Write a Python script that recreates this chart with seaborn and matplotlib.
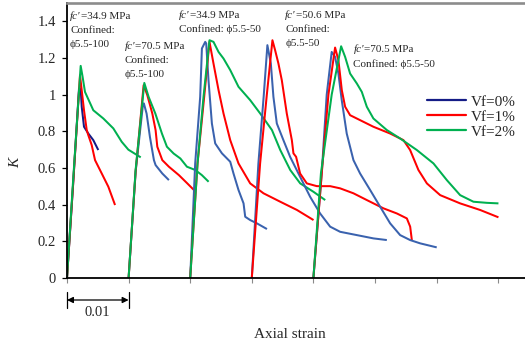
import numpy as np
import pandas as pd
import matplotlib
matplotlib.use("Agg")
import matplotlib.pyplot as plt
import seaborn as sns
from matplotlib.lines import Line2D
from matplotlib.transforms import blended_transform_factory

# ---------------------------------------------------------------------------
# Normalised stress K versus axial strain for five confined specimen groups.
# Strain values are given in units of 1e-3, measured from each group's origin.
# ---------------------------------------------------------------------------
group_origins = [0.0, 10.0, 20.0, 30.0, 40.0]          # x 1e-3 strain
vf_labels = ["Vf=0%", "Vf=1%", "Vf=2%"]

# Group 1: fc'=34.9 MPa, phi5.5-100
g1_vf0_strain = [0, 0.97, 1.95, 2.22, 2.39, 2.76, 3.46, 4.27, 5.08]
g1_vf0_k = [0, 0.50, 1.034, 1.034, 0.934, 0.825, 0.788, 0.752, 0.698]
g1_vf1_strain = [0, 0.97, 2.11, 2.39, 2.76, 3.20, 3.46, 4.01, 4.55, 5.64, 6.71, 7.80]
g1_vf1_k = [0, 0.50, 1.106, 1.024, 0.915, 0.807, 0.779, 0.725, 0.643, 0.570, 0.498, 0.398]
g1_vf2_strain = [0, 0.97, 2.22, 2.52, 2.92, 4.27, 5.90, 7.52, 8.88, 9.96, 11.97]
g1_vf2_k = [0, 0.52, 1.157, 1.10, 1.015, 0.915, 0.870, 0.816, 0.743, 0.700, 0.658]

# Group 2: fc'=70.5 MPa, phi5.5-100
g2_vf0_strain = [0, 1.14, 2.35, 2.48, 2.92, 3.46, 4.11, 4.38, 5.47, 6.54]
g2_vf0_k = [0, 0.58, 0.952, 0.952, 0.897, 0.770, 0.643, 0.616, 0.570, 0.534]
g2_vf1_strain = [0, 1.14, 2.44, 3.04, 3.85, 4.38, 4.66, 5.47, 6.54, 8.17, 9.53, 10.60]
g2_vf1_k = [0, 0.58, 1.052, 0.997, 0.897, 0.807, 0.716, 0.643, 0.607, 0.561, 0.516, 0.480]
g2_vf2_strain = [0, 1.14, 2.55, 3.25, 4.34, 5.41, 6.22, 7.31, 8.40, 9.47, 10.83, 11.90, 12.99]
g2_vf2_k = [0, 0.59, 1.064, 0.988, 0.897, 0.788, 0.716, 0.679, 0.652, 0.607, 0.589, 0.561, 0.525]

# Group 3: fc'=34.9 MPa, phi5.5-50
g3_vf0_strain = [0, 0.81, 1.62, 1.90, 2.44, 2.60, 2.97, 3.52, 4.06, 5.15, 6.50, 7.03,
                 7.84, 8.66, 8.93, 9.74, 10.83, 12.46]
g3_vf0_k = [0, 0.625, 0.988, 1.252, 1.288, 1.279, 1.079, 0.843, 0.734, 0.680, 0.634, 0.570,
            0.480, 0.407, 0.334, 0.316, 0.298, 0.267]
g3_vf1_strain = [0, 1.19, 2.27, 3.13, 3.78, 4.60, 5.41, 6.50, 7.84, 9.74, 11.90, 14.62,
                 17.33, 20.02]
g3_vf1_k = [0, 0.625, 0.988, 1.288, 1.170, 1.025, 0.897, 0.752, 0.625, 0.516, 0.462, 0.416,
            0.371, 0.316]
g3_vf2_strain = [0, 1.19, 2.16, 3.13, 3.78, 4.60, 5.41, 6.50, 7.84, 9.74, 11.37, 13.27,
                 14.62, 16.24, 17.86, 20.02, 21.92]
g3_vf2_k = [0, 0.625, 0.988, 1.297, 1.288, 1.233, 1.197, 1.134, 1.043, 0.970, 0.897, 0.807,
            0.698, 0.589, 0.516, 0.470, 0.425]

# Group 4: fc'=50.6 MPa, phi5.5-50 (no Vf=2% specimen)
g4_vf0_strain = [0, 1.07, 1.95, 2.53, 3.09, 3.51, 4.06, 5.13, 6.22, 7.84, 9.47, 11.09,
                 12.72, 14.34, 17.05, 19.75, 21.92]
g4_vf0_k = [0, 0.625, 1.0, 1.270, 1.170, 0.988, 0.843, 0.752, 0.661, 0.552, 0.443, 0.352,
            0.280, 0.252, 0.234, 0.216, 0.207]
g4_vf1_strain = [0, 1.35, 2.44, 3.35, 3.78, 4.32, 4.87, 5.68, 6.50, 6.76, 7.19, 7.84, 8.93,
                 10.56, 12.72, 14.34, 16.50, 18.68, 21.37, 23.55, 25.17, 25.71, 25.98]
g4_vf1_k = [0, 0.625, 1.0, 1.297, 1.243, 1.170, 1.079, 0.897, 0.752, 0.680, 0.661, 0.570,
            0.516, 0.501, 0.501, 0.489, 0.462, 0.425, 0.380, 0.352, 0.325, 0.280, 0.207]

# Group 5: fc'=70.5 MPa, phi5.5-50
g5_vf0_strain = [0, 1.35, 2.16, 2.97, 3.52, 4.06, 4.60, 5.41, 6.50, 7.58, 9.21, 10.83,
                 12.46, 14.08, 15.70, 17.33, 20.02]
g5_vf0_k = [0, 0.57, 1.0, 1.233, 1.206, 1.115, 0.970, 0.788, 0.643, 0.570, 0.480, 0.389,
            0.298, 0.234, 0.207, 0.189, 0.167]
g5_vf1_strain = [0, 1.35, 2.44, 3.52, 4.06, 4.61, 5.15, 5.96, 7.58, 9.74, 12.46, 14.62,
                 15.70, 17.05, 18.42, 20.58, 23.82, 27.07, 30.04]
g5_vf1_k = [0, 0.57, 1.0, 1.257, 1.188, 1.025, 0.934, 0.888, 0.861, 0.825, 0.788, 0.752,
            0.698, 0.589, 0.516, 0.452, 0.407, 0.371, 0.331]
g5_vf2_strain = [0, 1.22, 2.97, 4.50, 5.15, 5.96, 7.05, 7.86, 8.67, 9.74, 11.92, 14.08,
                 16.79, 19.49, 21.66, 23.82, 25.98, 28.16, 30.04]
g5_vf2_k = [0, 0.57, 1.0, 1.264, 1.206, 1.115, 1.061, 1.015, 0.934, 0.870, 0.807, 0.761,
            0.698, 0.625, 0.534, 0.452, 0.416, 0.410, 0.407]

# Group annotations
fc_values = ["34.9", "70.5", "34.9", "50.6", "70.5"]
confinement = ["\u03d55.5-100", "\u03d55.5-100", "\u03d55.5-50", "\u03d55.5-50", "\u03d55.5-50"]
confined_inline = [False, False, True, False, True]

# y-axis tick labels and scale bar
y_ticks = [0, 0.2, 0.4, 0.6, 0.8, 1.0, 1.2, 1.4]
y_tick_labels = ["0", "0.2", "0.4", "0.6", "0.8", "1", "1.2", "1.4"]
scale_bar_strain = 0.01

# ---------------------------------------------------------------------------
curves = [
    (0, 0, g1_vf0_strain, g1_vf0_k), (0, 1, g1_vf1_strain, g1_vf1_k), (0, 2, g1_vf2_strain, g1_vf2_k),
    (1, 0, g2_vf0_strain, g2_vf0_k), (1, 1, g2_vf1_strain, g2_vf1_k), (1, 2, g2_vf2_strain, g2_vf2_k),
    (2, 0, g3_vf0_strain, g3_vf0_k), (2, 1, g3_vf1_strain, g3_vf1_k), (2, 2, g3_vf2_strain, g3_vf2_k),
    (3, 0, g4_vf0_strain, g4_vf0_k), (3, 1, g4_vf1_strain, g4_vf1_k),
    (4, 0, g5_vf0_strain, g5_vf0_k), (4, 1, g5_vf1_strain, g5_vf1_k), (4, 2, g5_vf2_strain, g5_vf2_k),
]

rows = []
for g, v, s, k in curves:
    for si, ki in zip(s, k):
        rows.append({"group": g, "vf": vf_labels[v],
                     "strain": (group_origins[g] + si) * 1e-3, "K": ki})
df = pd.DataFrame(rows)

sns.set_theme(style="white")
plt.rcParams["font.family"] = ["Liberation Serif", "DejaVu Serif"]
plt.rcParams["axes.unicode_minus"] = False

NAVY = "#141c86"
STEEL = "#3a62ae"
RED = "#ff0000"
GREEN = "#00b050"

fig = plt.figure(figsize=(5.25, 3.42), dpi=100)
ax = fig.add_axes([67 / 525, 64 / 342, 458 / 525, 275 / 342])

for g in range(5):
    for v, lab in enumerate(vf_labels):
        sub = df[(df["group"] == g) & (df["vf"] == lab)]
        if sub.empty:
            continue
        if v == 0:
            col = NAVY if g == 0 else STEEL
        else:
            col = RED if v == 1 else GREEN
        sns.lineplot(data=sub, x="strain", y="K", sort=False, estimator=None,
                     color=col, linewidth=1.45, ax=ax, legend=False,
                     solid_joinstyle="round", solid_capstyle="butt")

ax.set_xlim(0, 0.07435)
ax.set_ylim(0, 1.5)
ax.set_xticks(np.arange(0, 0.0745, scale_bar_strain))
ax.set_xticklabels([])
ax.set_yticks(y_ticks)
ax.set_yticklabels(y_tick_labels, fontsize=10.5)

ax.tick_params(axis="y", direction="out", length=3.6, width=0.9, color="black", pad=4.5,
               left=True)
ax.tick_params(axis="x", direction="out", length=3.6, width=0.8, color="#8a8a8a",
               bottom=True)

for side in ("left", "bottom"):
    ax.spines[side].set_color("black")
    ax.spines[side].set_linewidth(1.3)
ax.spines["top"].set_color("#8c8c8c")
ax.spines["top"].set_linewidth(1.9)
ax.spines["right"].set_visible(False)

ax.set_xlabel("Axial strain", fontsize=11)
ax.xaxis.set_label_coords(223 / 458, -0.182)
ax.set_ylabel("K", fontsize=11, style="italic")
ax.yaxis.set_label_coords(-0.097, 0.42)

# Group annotations: italic fc' followed by upright text
ann_x = [0.49, 9.37, 18.19, 35.41, 46.50]
ann_y0 = [1.428, 1.264, 1.433, 1.433, 1.246]
line_step = 0.077
for g in range(5):
    x = ann_x[g] * 1e-3
    y = ann_y0[g]
    t = ax.text(x, y, "fc'", style="italic", fontsize=8, va="center", ha="left")
    ax.annotate("=" + fc_values[g] + " MPa", xy=(1, 0.5), xycoords=t,
                va="center", ha="left", fontsize=8)
    if confined_inline[g]:
        ax.text(x, y - line_step, "Confined: " + confinement[g], fontsize=8,
                va="center", ha="left")
    else:
        ax.text(x, y - line_step, "Confined:", fontsize=8, va="center", ha="left")
        ax.text(x, y - 2 * line_step, confinement[g], fontsize=8, va="center", ha="left")

# Legend
handles = [Line2D([], [], color=NAVY, lw=1.6),
           Line2D([], [], color=RED, lw=1.6),
           Line2D([], [], color=GREEN, lw=1.6)]
fig.legend(handles, vf_labels, loc="upper left",
           bbox_to_anchor=(427 / 525, 1 - 95 / 342), frameon=False, fontsize=11,
           handlelength=2.55, handletextpad=0.35, labelspacing=0.08,
           borderpad=0, borderaxespad=0)

# Scale bar below the axis
trans = blended_transform_factory(ax.transData, ax.transAxes)
for xs in (0, scale_bar_strain):
    ax.plot([xs, xs], [-0.051, -0.109], color="black", lw=0.9, transform=trans,
            clip_on=False)
ax.annotate("", xy=(0, -0.08), xytext=(scale_bar_strain, -0.08),
            xycoords=trans, textcoords=trans,
            arrowprops=dict(arrowstyle="<|-|>", color="black", lw=0.9,
                            mutation_scale=9, shrinkA=0, shrinkB=0))
ax.text(scale_bar_strain / 2, -0.124, f"{scale_bar_strain:g}", transform=trans,
        ha="center", va="center", fontsize=10.5)

fig.savefig("out.png", dpi=100)
